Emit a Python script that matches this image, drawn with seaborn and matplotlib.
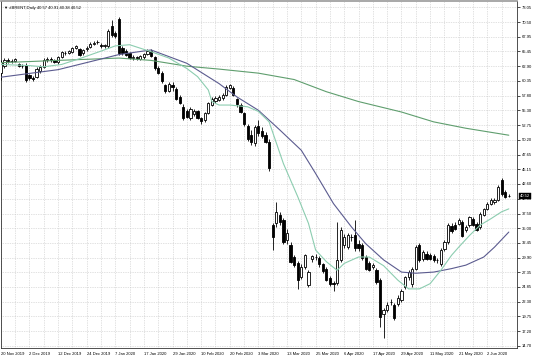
import numpy as np
import matplotlib
matplotlib.use("Agg")
import matplotlib.pyplot as plt
import seaborn as sns

# ---------------- data ----------------
opens = [61.7, 62.9, 64.0, 63.8, 63.8, 63.3, 62.9, 63.1, 61.3, 60.9,
         61.1, 62.0, 62.8, 64.0, 64.1, 63.9, 63.6, 64.5, 65.2, 65.2,
         65.4, 66.0, 65.8, 65.1, 65.8, 66.2, 66.8, 67.0, 66.6, 66.3,
         66.4, 69.8, 68.6, 71.0, 66.0, 65.6, 65.1, 64.3, 64.4, 64.1,
         64.4, 65.0, 65.6, 64.5, 62.6, 61.8, 59.6, 58.6, 59.7, 59.0,
         57.6, 55.9, 55.1, 54.0, 54.6, 55.1, 53.9, 53.6, 54.8, 56.2,
         56.9, 57.1, 57.4, 57.9, 59.2, 59.2, 57.2, 56.2, 54.8, 52.6,
         51.0, 49.6, 52.6, 51.8, 51.0, 49.9, 35.5, 35.8, 37.2, 36.4,
         33.0, 32.1, 30.0, 28.9, 26.6, 28.3, 25.1, 29.7, 30.0, 29.8,
         28.8, 28.0, 26.4, 25.5, 25.6, 29.5, 32.1, 31.8, 33.4, 33.8,
         32.3, 32.1, 30.0, 28.9, 28.3, 27.8, 26.1, 20.2, 20.9, 22.2,
         21.7, 21.9, 22.6, 24.8, 26.5, 25.4, 28.0, 32.0, 29.7, 30.6,
         30.3, 30.1, 29.4, 28.8, 31.4, 32.6, 35.4, 35.6, 35.7, 36.0,
         34.6, 35.5, 36.6, 35.7, 35.2, 37.2, 38.3, 39.2, 39.5, 39.8,
         43.2, 41.2, 40.57]
highs = [64.0, 64.3, 64.3, 64.1, 64.3, 63.5, 63.3, 63.4, 61.6, 61.2,
         62.8, 63.1, 64.3, 64.4, 64.5, 64.2, 64.7, 65.6, 65.5, 65.7,
         66.2, 66.6, 66.0, 65.9, 66.3, 67.1, 67.2, 67.5, 66.9, 66.8,
         69.3, 70.9, 69.0, 71.4, 66.3, 65.9, 65.3, 64.8, 64.7, 64.9,
         65.2, 65.9, 65.8, 64.7, 62.9, 62.0, 59.9, 60.2, 60.1, 59.3,
         58.0, 56.3, 55.5, 55.8, 55.6, 55.4, 54.2, 55.0, 56.8, 57.6,
         57.7, 57.9, 58.2, 59.6, 59.9, 59.4, 57.4, 56.6, 55.0, 53.0,
         51.9, 52.8, 53.6, 52.4, 51.5, 50.3, 35.8, 39.5, 37.8, 36.8,
         34.9, 32.6, 30.4, 29.3, 28.8, 30.6, 27.8, 30.4, 30.6, 30.1,
         29.0, 28.3, 26.7, 25.8, 36.0, 35.2, 33.9, 34.1, 34.0, 36.4,
         32.9, 32.4, 30.3, 29.3, 29.0, 28.1, 26.4, 21.2, 22.2, 22.7,
         22.0, 23.4, 24.5, 26.8, 27.8, 28.3, 32.0, 32.5, 31.2, 31.0,
         30.7, 30.5, 29.9, 31.5, 32.9, 35.8, 35.8, 36.0, 36.7, 36.4,
         35.5, 37.1, 36.9, 36.0, 37.7, 38.5, 39.4, 40.1, 40.2, 42.4,
         43.6, 41.5, 40.91]
lows = [60.5, 62.6, 63.5, 63.4, 63.6, 62.7, 62.6, 60.2, 60.6, 60.4,
        60.9, 61.8, 62.6, 63.6, 63.7, 63.4, 63.3, 64.3, 64.8, 65.0,
        65.2, 65.8, 64.6, 64.9, 65.6, 66.0, 66.5, 66.7, 66.0, 66.0,
        66.1, 68.0, 67.8, 64.9, 64.9, 64.6, 64.1, 64.0, 63.9, 63.9,
        64.2, 64.8, 64.4, 62.3, 61.5, 60.0, 58.3, 58.4, 58.7, 57.0,
        56.3, 53.7, 53.9, 53.7, 54.3, 53.8, 53.0, 53.3, 54.6, 56.0,
        56.6, 56.9, 57.1, 57.7, 58.9, 57.8, 55.9, 54.8, 52.6, 50.0,
        49.3, 49.2, 50.8, 50.6, 49.6, 44.8, 31.2, 35.2, 35.6, 32.2,
        32.2, 28.9, 28.3, 24.4, 26.2, 27.9, 24.8, 29.2, 29.5, 28.3,
        27.3, 25.8, 25.0, 24.1, 25.2, 29.2, 31.6, 31.4, 32.8, 31.0,
        31.1, 29.5, 27.8, 27.6, 27.9, 25.3, 18.0, 16.0, 20.5, 21.7,
        19.1, 21.6, 22.2, 24.4, 26.1, 24.8, 27.7, 29.1, 29.3, 29.4,
        29.4, 29.1, 29.0, 28.4, 31.1, 32.3, 34.2, 34.6, 35.5, 33.5,
        34.3, 35.2, 35.3, 34.4, 34.9, 37.0, 38.1, 38.9, 39.2, 39.6,
        40.6, 40.1, 40.38]
closes = [63.7, 64.0, 63.8, 63.8, 64.1, 62.9, 63.0, 60.5, 60.8, 60.7,
          62.5, 62.8, 64.0, 64.1, 64.0, 63.7, 64.5, 65.4, 65.2, 65.5,
          66.0, 66.3, 64.9, 65.7, 66.0, 66.8, 66.9, 67.1, 66.3, 66.5,
          69.0, 68.3, 68.1, 65.2, 65.1, 64.8, 64.3, 64.5, 64.3, 64.7,
          65.0, 65.6, 64.6, 62.6, 61.8, 60.3, 58.6, 59.9, 59.3, 57.3,
          56.6, 54.0, 54.2, 55.5, 55.2, 54.0, 53.4, 54.8, 56.5, 57.3,
          57.4, 57.6, 57.9, 59.3, 59.6, 58.0, 56.3, 55.0, 53.0, 50.4,
          49.8, 52.4, 51.4, 50.9, 49.9, 45.3, 33.5, 37.8, 36.1, 32.6,
          34.2, 29.2, 28.6, 26.0, 28.3, 30.3, 27.5, 30.1, 30.0, 28.8,
          27.6, 26.1, 25.3, 25.3, 29.5, 34.6, 33.5, 33.8, 33.5, 31.5,
          31.5, 29.8, 28.0, 27.8, 28.6, 25.7, 19.7, 20.8, 21.7, 22.3,
          19.4, 23.0, 24.2, 26.5, 27.4, 28.0, 31.7, 29.4, 30.9, 29.7,
          29.7, 29.4, 29.5, 31.2, 32.6, 35.5, 34.5, 34.8, 36.3, 33.7,
          35.2, 36.9, 35.5, 34.6, 37.5, 38.3, 39.2, 39.8, 39.9, 42.1,
          40.9, 40.3, 40.52]

date_labels = ["20 Nov 2019", "2 Dec 2019", "12 Dec 2019", "24 Dec 2019",
               "7 Jan 2020", "17 Jan 2020", "29 Jan 2020", "10 Feb 2020",
               "20 Feb 2020", "3 Mar 2020", "13 Mar 2020", "25 Mar 2020",
               "6 Apr 2020", "17 Apr 2020", "29 Apr 2020", "11 May 2020",
               "21 May 2020", "2 Jun 2020"]
date_label_bars = [0, 8, 16, 24, 32, 40, 48, 56, 64, 72, 80, 88, 96, 104,
                   112, 120, 128, 136]

price_ticks = [73.05, 70.50, 67.95, 65.45, 62.90, 60.35, 57.80, 55.30,
               52.75, 50.20, 47.65, 45.15, 42.60, 40.05, 37.50, 35.00,
               32.45, 29.90, 27.35, 24.85, 22.30, 19.75, 17.20, 14.70]

# moving averages (bar index, price)
slow_ma_bars = [0, 16, 33, 42, 52, 61, 72, 82, 91, 100, 112, 121, 130, 142]
slow_ma = [63.5, 63.9, 64.3, 63.9, 62.9, 62.4, 61.7, 60.6, 58.5, 56.8,
           55.0, 53.3, 52.2, 51.0]

mid_ma_bars = [0, 16, 33, 42, 52, 61, 66, 72, 78, 84, 88, 93, 98, 102,
               107, 112, 116, 121, 126, 130, 135, 138, 142]
mid_ma = [61.0, 62.3, 64.9, 65.7, 63.4, 59.9, 57.6, 55.3, 51.9, 48.4,
          44.4, 39.2, 35.2, 32.3, 29.5, 27.4, 27.2, 27.4, 28.0, 28.6,
          30.0, 31.7, 34.3]

fast_ma_bars = [0, 8, 12, 17, 22, 28, 32, 36, 39, 42, 47, 52, 55, 58, 59,
                61, 64, 69, 72, 75, 79, 83, 86, 88, 91, 94, 96, 100, 103,
                107, 111, 114, 117, 120, 123, 126, 128, 131, 134, 137, 140,
                142]
fast_ma = [63.2, 63.0, 62.8, 63.2, 64.2, 65.5, 66.4, 66.6, 66.0, 65.4,
           64.3, 62.5, 61.1, 58.8, 56.8, 56.2, 56.2, 55.9, 55.1, 53.3,
           46.1, 40.4, 35.8, 31.2, 29.2, 27.7, 28.9, 30.0, 30.0, 28.5,
           26.0, 24.5, 24.5, 25.4, 27.7, 30.3, 31.7, 33.7, 35.5, 36.6,
           37.8, 38.3]

header_text = "\u25BC #BRENT,Daily 40.57 40.91 40.38 40.52"
last_price = 40.52

# ---------------- drawing ----------------
sns.set_style("white")
plt.rcParams['font.family'] = ['Liberation Sans', 'DejaVu Sans']

fig = plt.figure(figsize=(5.36, 3.57), dpi=100)
ax = fig.add_axes([0.001, 0.0252, 0.9636, 0.972])

idx = np.arange(len(closes))
o = np.array(opens)
c = np.array(closes)
h = np.array(highs)
l = np.array(lows)
bull = c >= o

ax.vlines(idx, l, h, color="black", linewidth=0.6, zorder=3)
ax.bar(idx[bull], (c - o)[bull], bottom=o[bull], width=0.62,
       color="white", edgecolor="black", linewidth=0.6, zorder=4)
ax.bar(idx[~bull], (o - c)[~bull], bottom=c[~bull], width=0.62,
       color="black", edgecolor="black", linewidth=0.6, zorder=4)

sns.lineplot(x=slow_ma_bars, y=slow_ma, ax=ax, color="#5f9e6e",
             linewidth=0.8, zorder=5)
sns.lineplot(x=mid_ma_bars, y=mid_ma, ax=ax, color="#5b5b8f",
             linewidth=0.8, zorder=5)
sns.lineplot(x=fast_ma_bars, y=fast_ma, ax=ax, color="#8ccdb0",
             linewidth=0.8, zorder=5)

ax.set_xlim(-0.08, 144.3)
ax.set_ylim(14.31, 74.14)
ax.set_xlabel("")
ax.set_ylabel("")

ax.set_xticks(date_label_bars)
ax.set_xticklabels(date_labels)
for lbl in ax.get_xticklabels():
    lbl.set_horizontalalignment("left")
ax.set_xticks([b + 4 for b in date_label_bars], minor=True)

ax.yaxis.tick_right()
ax.set_yticks(price_ticks)
ax.set_yticklabels([f"{v:.2f}" for v in price_ticks])

ax.tick_params(axis="x", which="major", direction="out", length=2,
               width=0.5, pad=1, labelsize=3, colors="black")
ax.tick_params(axis="x", which="minor", length=0)
ax.tick_params(axis="y", which="major", direction="out", length=2,
               width=0.5, pad=1.5, labelsize=3, colors="black")

ax.set_axisbelow(True)
ax.grid(True, which="both", color="#c4c4c4", linestyle=(0, (1, 1.5)),
        linewidth=0.5)
for sp in ax.spines.values():
    sp.set_visible(True)
    sp.set_color("#333333")
    sp.set_linewidth(0.6)
ax.spines["top"].set_color("#999999")
ax.spines["top"].set_linewidth(1.2)

ax.text(0.007, 0.985, header_text, transform=ax.transAxes, fontsize=3,
        va="top", ha="left", color="black", zorder=6)

ax.annotate(f"{last_price:.2f}", xy=(1.0, last_price),
            xycoords=("axes fraction", "data"), xytext=(2.0, 0),
            textcoords="offset points", ha="left", va="center", fontsize=3,
            color="white", annotation_clip=False, zorder=10,
            bbox=dict(boxstyle="square,pad=0.25", fc="black", ec="black",
                      lw=0.3))

fig.savefig("out.png", dpi=100)
